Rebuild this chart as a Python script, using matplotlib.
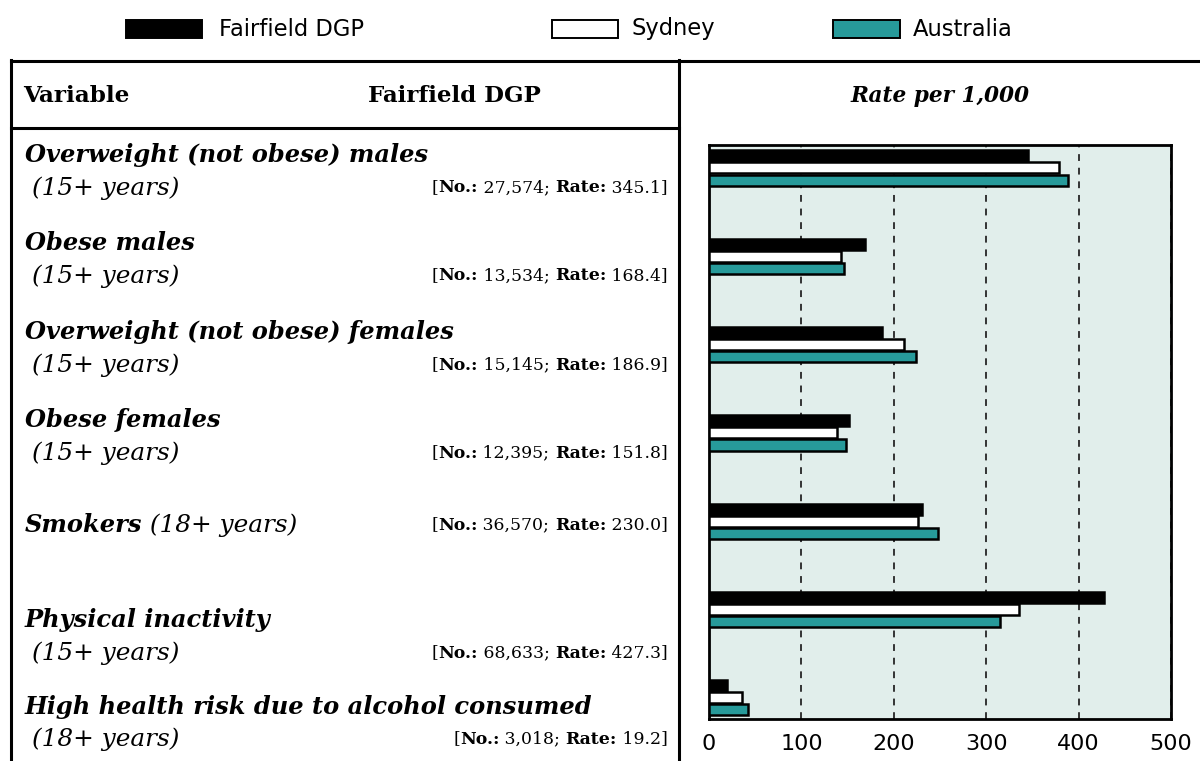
import matplotlib
matplotlib.use("Agg")
import matplotlib.pyplot as plt
from matplotlib.lines import Line2D
from matplotlib.patches import Rectangle
from matplotlib.text import Annotation
import numpy as np

# ---------------- data ----------------
variables = ["Overweight (not obese) males", "Obese males",
             "Overweight (not obese) females", "Obese females",
             "Smokers", "Physical inactivity",
             "High health risk due to alcohol consumed"]
age_groups = ["(15+ years)", "(15+ years)", "(15+ years)", "(15+ years)",
              "(18+ years)", "(15+ years)", "(18+ years)"]
counts = ["27,574", "13,534", "15,145", "12,395", "36,570", "68,633", "3,018"]
fairfield = [345.1, 168.4, 186.9, 151.8, 230.0, 427.3, 19.2]
sydney = [379, 143, 211, 138, 226, 336, 36]
australia = [389, 146, 224, 148, 248, 315, 42]
series_names = ["Fairfield DGP", "Sydney", "Australia"]
series_colors = ["#000000", "#ffffff", "#279a9a"]
x_ticks = [0, 100, 200, 300, 400, 500]

W, H = 1200, 761
fig = plt.figure(figsize=(12, 7.61), dpi=100)
renderer = fig.canvas.get_renderer()
SERIF = "DejaVu Serif"


def fx(x):
    return x / W


def fy(y):
    return 1 - y / H


def fit(t, width):
    w = t.get_window_extent(renderer).width
    t.set_fontsize(t.get_fontsize() * width / w)
    return t.get_fontsize()


# ---------------- bar chart ----------------
ax = fig.add_axes([fx(709), fy(719), 462 / W, 574 / H])
ax.set_facecolor("#e1eeeb")
y = np.arange(len(variables))
bh = 0.125
step = 0.137
for k, (vals, col) in enumerate(zip([fairfield, sydney, australia], series_colors)):
    ax.barh(y + (k - 1) * step, vals, height=bh, color=col,
            edgecolor="black", linewidth=1.8, zorder=3)
ax.set_xlim(0, 500)
ax.set_ylim(6.24, -0.26)
ax.set_xticks(x_ticks)
ax.set_xticklabels([str(v) for v in x_ticks], fontsize=16, family="DejaVu Sans")
ax.set_yticks([])
ax.tick_params(axis="x", length=0, pad=11)
ax.grid(axis="x", color="#333333", linestyle=(0, (3.5, 3.5)), linewidth=1.4, zorder=1)
ax.set_axisbelow(True)
for s in ax.spines.values():
    s.set_linewidth(2)
    s.set_color("black")


# ---------------- table frame ----------------
def hline(x0, x1, yy, lw=2.2):
    fig.add_artist(Line2D([fx(x0), fx(x1)], [fy(yy), fy(yy)], color="black", lw=lw))


def vline(xx, y0, y1, lw=2.2):
    fig.add_artist(Line2D([fx(xx), fx(xx)], [fy(y0), fy(y1)], color="black", lw=lw))


hline(11, 1200, 61)
hline(11, 679, 128)
vline(11, 60, 761)
vline(679, 60, 761)

# header texts
t = fig.text(fx(23), fy(102), "Variable", family=SERIF, weight="bold",
             fontsize=14, va="baseline", ha="left")
fit(t, 107)
t = fig.text(fx(368), fy(102), "Fairfield DGP", family=SERIF, weight="bold",
             fontsize=14, va="baseline", ha="left")
fit(t, 173)
t = fig.text(fx(940), fy(102), "Rate per 1,000", family=SERIF, weight="bold",
             style="italic", fontsize=14, va="baseline", ha="center")
fit(t, 180)

# ---------------- legend ----------------
leg_box_x = [126, 552, 833]
leg_box_w = [76, 66, 67]
leg_text_x = [219, 632, 913]
legfs = 14
for bx, bw, tx, name, col in zip(leg_box_x, leg_box_w, leg_text_x, series_names, series_colors):
    fig.add_artist(Rectangle((fx(bx), fy(38)), bw / W, 18 / H, facecolor=col,
                             edgecolor="black", lw=1.4, transform=fig.transFigure))
    lt = fig.text(fx(tx), fy(29), name, family="DejaVu Sans", fontsize=legfs,
                  va="center", ha="left")
    if name == series_names[0]:
        legfs = fit(lt, 146)


# ---------------- bracket text helper ----------------
def bracket(x_right, yy, count, rate, fs):
    segs = [("[", "normal"), ("No.:", "bold"), (" " + count + "; ", "normal"),
            ("Rate:", "bold"), (" " + f"{rate:.1f}" + "]", "normal")]
    arts = []
    last = fig.text(fx(x_right), fy(yy), segs[-1][0], family=SERIF, weight=segs[-1][1],
                    fontsize=fs, va="center", ha="right")
    arts.append(last)
    prev = last
    for txt, wt in reversed(segs[:-1]):
        a = Annotation(txt, xy=(0, 0.5), xycoords=prev, ha="right", va="center",
                       family=SERIF, weight=wt, fontsize=fs, annotation_clip=False)
        fig.add_artist(a)
        arts.append(a)
        prev = a
    left = prev.get_window_extent(renderer).x0
    right = last.get_window_extent(renderer).x1
    return arts, right - left


# ---------------- row labels ----------------
main_y = [155, 243, 332, 420, 525, 620, 707]
sub_y = [188, 276, 365, 453, 525, 653, 739]

t0 = fig.text(fx(25), fy(main_y[0]), variables[0], family=SERIF,
              weight="bold", style="italic", fontsize=16, va="center", ha="left")
main_fs = fit(t0, 404)
s0 = fig.text(fx(32), fy(sub_y[0]), age_groups[0], family=SERIF,
              style="italic", fontsize=14, va="center", ha="left")
sub_fs = fit(s0, 148)

# determine bracket font size from the first row
arts, w = bracket(668, sub_y[0], counts[0], fairfield[0], 14)
br_fs = 14 * 236 / w
for a in arts:
    a.remove()

for i in range(len(variables)):
    if i > 0:
        mt = fig.text(fx(25), fy(main_y[i]), variables[i], family=SERIF,
                      weight="bold", style="italic", fontsize=main_fs,
                      va="center", ha="left")
    else:
        mt = t0
    if variables[i] == "Smokers":
        a = Annotation(" " + age_groups[i], xy=(1, 0.5), xycoords=mt,
                       va="center", ha="left", family=SERIF,
                       style="italic", fontsize=sub_fs, annotation_clip=False)
        fig.add_artist(a)
    elif i > 0:
        fig.text(fx(32), fy(sub_y[i]), age_groups[i], family=SERIF,
                 style="italic", fontsize=sub_fs, va="center", ha="left")
    bracket(668, sub_y[i], counts[i], fairfield[i], br_fs)

fig.savefig("out.png", dpi=100)
